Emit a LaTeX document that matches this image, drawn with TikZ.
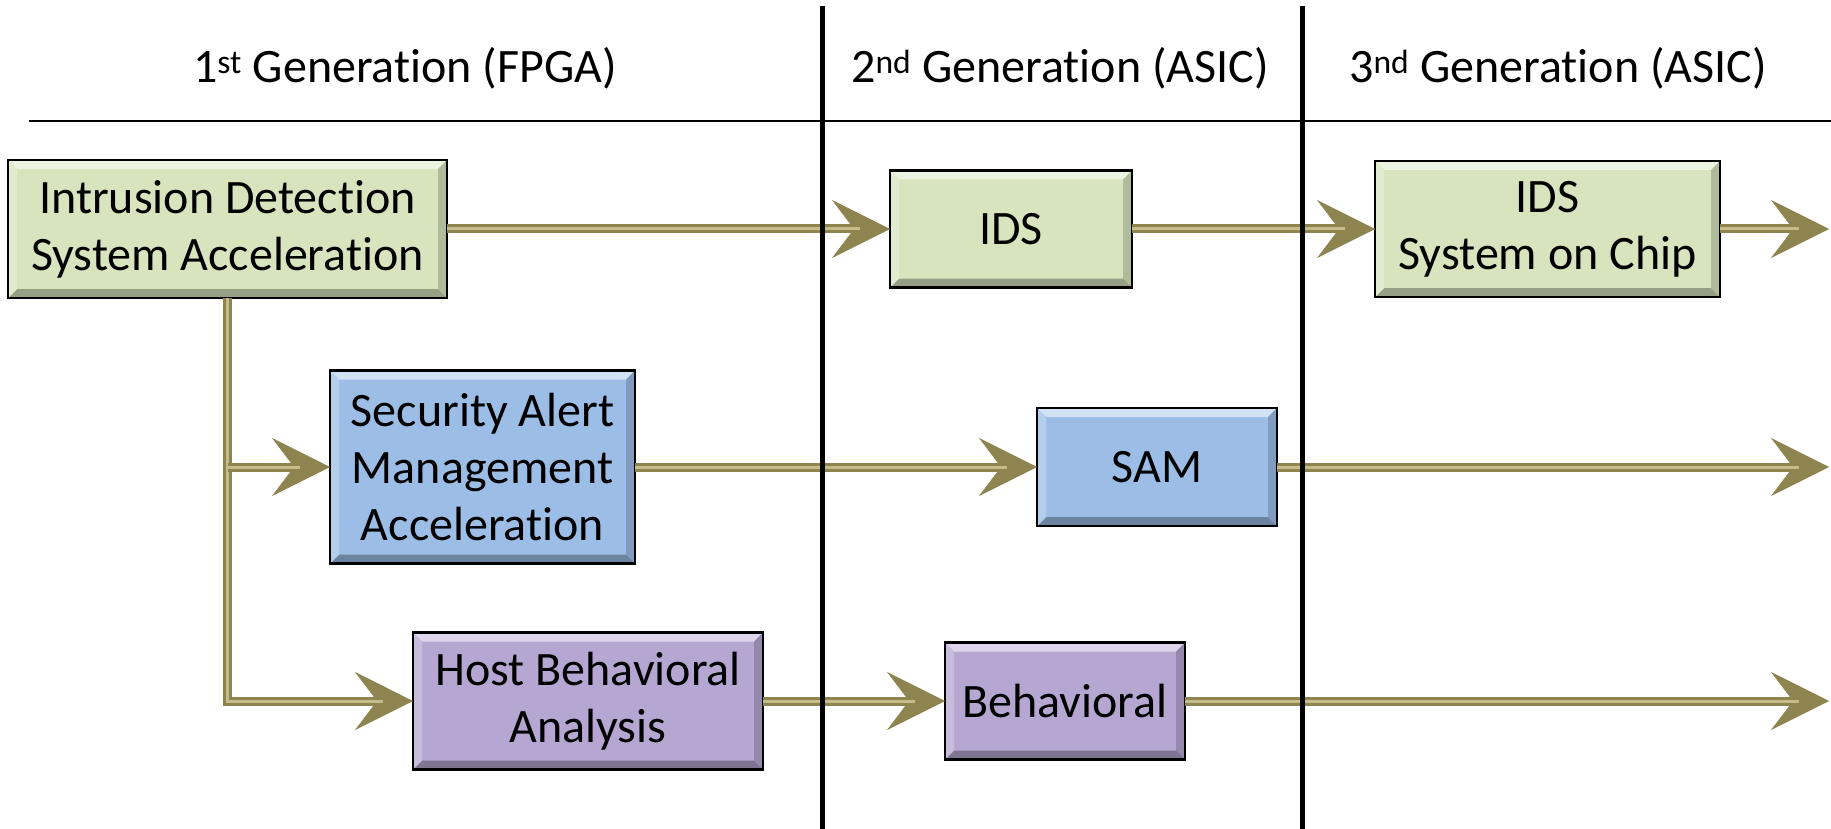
\documentclass[tikz,border=0pt]{standalone}
\usepackage{fontspec}
\setmainfont{Carlito}[RawFeature=-liga]
\usetikzlibrary{arrows.meta}
\definecolor{arrowolive}{HTML}{8E8450}
\definecolor{arrowlight}{HTML}{C4BC8A}
\definecolor{greenbox}{HTML}{D7E4BD}
\definecolor{bluebox}{HTML}{9CBDE6}
\definecolor{purplebox}{HTML}{B6A6D2}
\newcommand\mybevel[2]{%
  \fill[#2!45!white] (#1.north west) -- (#1.north east) -- ([shift={(-9,9)}]#1.north east) -- ([shift={(9,9)}]#1.north west) -- cycle;
  \fill[#2!70!black] (#1.south west) -- (#1.south east) -- ([shift={(-9,-9)}]#1.south east) -- ([shift={(9,-9)}]#1.south west) -- cycle;
  \fill[#2!75!white] (#1.north west) -- ([shift={(9,9)}]#1.north west) -- ([shift={(9,-9)}]#1.south west) -- (#1.south west) -- cycle;
  \fill[#2!82!black] (#1.north east) -- ([shift={(-9,9)}]#1.north east) -- ([shift={(-9,-9)}]#1.south east) -- (#1.south east) -- cycle;
  \draw[line width=2.5pt] (#1.north west) rectangle (#1.south east);
}
\begin{document}
\begin{tikzpicture}[x=1pt,y=-1pt,
  box/.style={draw=black, line width=2.5pt, outer sep=0pt, inner sep=0pt, align=center,
    font=\fontsize{48}{57}\selectfont},
  hdr/.style={font=\fontsize{48}{57}\selectfont, inner sep=0pt},
  conn/.style={arrowolive, line width=9pt, line join=miter,
    -{Stealth[length=58pt 0 0, width=58pt 0 0, inset=22pt 0 0, line width=0.5pt 0 0]},
    postaction={draw=arrowlight, line width=3pt, -, shorten >=30pt}},
  sep/.style={line width=5pt, black}]
\useasboundingbox (0,0) rectangle (1831,829);

% header
\node[hdr, anchor=base] (h1) at (405,83) {1\textsuperscript{st} Generation (FPGA)};
\node[hdr, anchor=base] (h2) at (1060,83) {2\textsuperscript{nd} Generation (ASIC)};
\node[hdr, anchor=base] (h3) at (1558,83) {3\textsuperscript{nd} Generation (ASIC)};
\coordinate (hl) at (29,121);
\coordinate (hr) at (1831,121);
\draw[line width=2.5pt] (hl) -- (hr);

% boxes
\node[box, fill=greenbox, minimum width=439, minimum height=138] (ida) at (227.5,229) {Intrusion Detection\\System Acceleration};
\node[box, fill=greenbox, minimum width=242, minimum height=117] (ids) at (1011,229) {IDS};
\node[box, fill=greenbox, minimum width=345, minimum height=136] (soc) at (1547.5,229) {IDS\\System on Chip};
\node[box, fill=bluebox, minimum width=305, minimum height=193] (sama) at (482.5,467) {Security Alert\\Management\\Acceleration};
\node[box, fill=bluebox, minimum width=240, minimum height=118] (sam) at (1157,467) {SAM};
\node[box, fill=purplebox, minimum width=350, minimum height=137] (hba) at (588,701) {Host Behavioral\\Analysis};
\node[box, fill=purplebox, minimum width=240, minimum height=117] (beh) at (1065,701) {Behavioral};

\mybevel{ida}{greenbox}
\mybevel{ids}{greenbox}
\mybevel{soc}{greenbox}
\mybevel{sama}{bluebox}
\mybevel{sam}{bluebox}
\mybevel{hba}{purplebox}
\mybevel{beh}{purplebox}

% connectors
\coordinate (e1) at (1829,229);
\coordinate (e2) at (1829,467);
\coordinate (e3) at (1829,701);
\draw[conn] (ida.east) -- (ids.west);
\draw[conn] (ids.east) -- (soc.west);
\draw[conn] (soc.east) -- (e1);
\draw[conn] (ida.south) |- (hba.west);
\draw[conn] (ida.south |- sama.west) -- (sama.west);
\draw[conn] (sama.east) -- (sam.west);
\draw[conn] (sam.east) -- (e2);
\draw[conn] (hba.east) -- (beh.west);
\draw[conn] (beh.east) -- (e3);

% generation separators
\coordinate (s1t) at (822,6);
\coordinate (s1b) at (822,829);
\coordinate (s2t) at (1302,6);
\coordinate (s2b) at (1302,829);
\draw[sep] (s1t) -- (s1b);
\draw[sep] (s2t) -- (s2b);
\end{tikzpicture}
\end{document}
